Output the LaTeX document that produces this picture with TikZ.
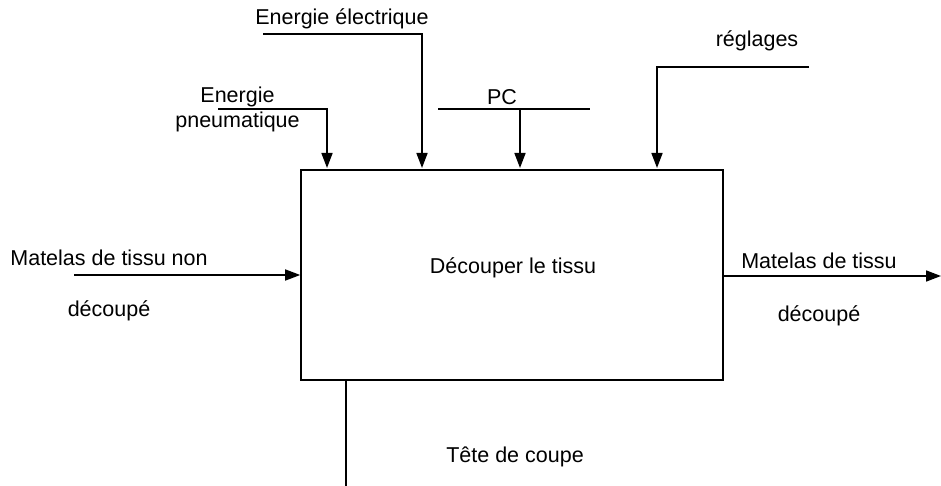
\documentclass[tikz,border=0pt]{standalone}
\usepackage{fontspec}
\setmainfont{Liberation Sans}
\usetikzlibrary{arrows.meta}
\begin{document}
\begin{tikzpicture}[x=1pt,y=-1pt,
  lbl/.style={inner sep=0pt,anchor=base,font=\fontsize{21.5}{25}\selectfont},
  ln/.style={line width=1.6pt},
  arr/.style={ln,-{Triangle[length=15pt,width=11pt]}},
  fbox/.style={draw,line width=1.6pt,minimum width=422pt,minimum height=210pt,inner sep=0pt}]
\useasboundingbox (0,0) rectangle (941,486);
\node[fbox] (box) at (512,275) {};
\node[lbl] (fn) at (513,273) {Découper le tissu};
% top inputs
\coordinate (pnS) at (218,109);
\coordinate (pnE) at (327,168);
\coordinate (elS) at (263,34);
\coordinate (elE) at (422,168);
\coordinate (pcL) at (438,109);
\coordinate (pcR) at (590,109);
\coordinate (pcM) at (520,109);
\coordinate (pcE) at (520,168);
\coordinate (rgS) at (809,67);
\coordinate (rgE) at (657,168);
\draw[arr] (pnS) -| (pnE);
\draw[arr] (elS) -| (elE);
\draw[ln] (pcL) -- (pcR);
\draw[arr] (pcM) -- (pcE);
\draw[arr] (rgS) -| (rgE);
\node[lbl] (tel) at (342,25) {Energie électrique};
\node[lbl] (tpn1) at (237.5,103) {Energie};
\node[lbl] (tpn2) at (237.5,128) {pneumatique};
\node[lbl] (tpc) at (502,105) {PC};
\node[lbl] (trg) at (757,47) {réglages};
% left input
\coordinate (inS) at (74,275);
\draw[arr] (inS) -- (box.west);
\node[lbl] (tin1) at (109,265) {Matelas de tissu non};
\node[lbl] (tin2) at (109,316) {découpé};
% right output
\coordinate (outE) at (941,276);
\draw[arr] (box.east |- outE) -- (outE);
\node[lbl] (tout1) at (819,268) {Matelas de tissu};
\node[lbl] (tout2) at (819,321) {découpé};
% bottom mechanism
\coordinate (mE) at (346,486);
\draw[ln] (box.south -| mE) -- (mE);
\node[lbl] (tm) at (515,462) {Tête de coupe};
\end{tikzpicture}
\end{document}
